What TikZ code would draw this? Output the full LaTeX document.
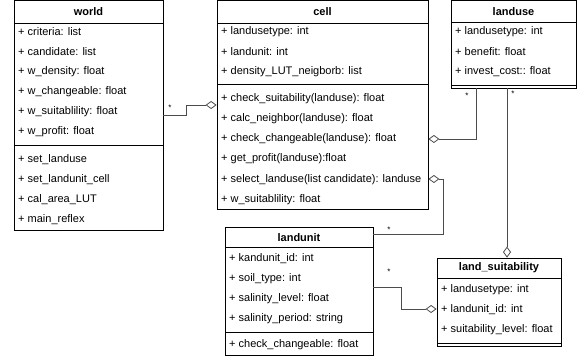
\documentclass[tikz,border=0pt]{standalone}
\usepackage{fontspec}
\setmainfont{Liberation Sans}
\usetikzlibrary{arrows.meta}
\begin{document}
\begin{tikzpicture}[x=1pt,y=-1pt,
  box/.style={draw=black,line width=0.8pt,inner sep=0pt},
  sepline/.style={draw=black,line width=0.8pt},
  rowtxt/.style={anchor=west,inner sep=0pt,font=\fontsize{11}{13}\selectfont},
  ttl/.style={inner sep=0pt,font=\fontsize{11}{13}\selectfont\bfseries},
  conn/.style={draw=black!70,line width=0.8pt,-{Diamond[open,length=11pt,width=8pt]}},
  mult/.style={inner sep=0pt,font=\fontsize{8}{9}\selectfont}]
\useasboundingbox (0,0) rectangle (583,358);
\fill[white] (0,0) rectangle (583,358);
% ---------- world ----------
\node[box,minimum width=149pt,minimum height=229.5pt] (world) at (88.5,115.25) {};
\node[ttl] (worldT) at (88.5,12) {world};
\draw[sepline] (14,23) -- (163,23);
\draw[sepline] (14,145) -- (163,145);
\node[rowtxt] (w1) at (18,32) {+ criteria: list};
\node[rowtxt] (w2) at (18,52) {+ candidate: list};
\node[rowtxt] (w3) at (18,72) {+ w\_density: float};
\node[rowtxt] (w4) at (18,92) {+ w\_changeable: float};
\node[rowtxt] (w5) at (18,112) {+ w\_suitablility: float};
\node[rowtxt] (w6) at (18,132) {+ w\_profit: float};
\node[rowtxt] (w7) at (18,160) {+ set\_landuse};
\node[rowtxt] (w8) at (18,180) {+ set\_landunit\_cell};
\node[rowtxt] (w9) at (18,200) {+ cal\_area\_LUT};
\node[rowtxt] (w10) at (18,220) {+ main\_reflex};
% ---------- cell ----------
\node[box,minimum width=211pt,minimum height=208.5pt] (cell) at (322.5,104.75) {};
\node[ttl] (cellT) at (322.5,12) {cell};
\draw[sepline] (217,23) -- (428,23);
\draw[sepline] (217,84) -- (428,84);
\node[rowtxt] (c1) at (221,32) {+ landusetype: int};
\node[rowtxt] (c2) at (221,52) {+ landunit: int};
\node[rowtxt] (c3) at (221,72) {+ density\_LUT\_neigborb: list};
\node[rowtxt] (c4) at (221,99) {+ check\_suitability(landuse): float};
\node[rowtxt] (c5) at (221,119) {+ calc\_neighbor(landuse): float};
\node[rowtxt] (c6) at (221,139) {+ check\_changeable(landuse): float};
\node[rowtxt] (c7) at (221,159) {+ get\_profit(landuse):float};
\node[rowtxt] (c8) at (221,180) {+ select\_landuse(list candidate): landuse};
\node[rowtxt] (c9) at (221,200) {+ w\_suitablility: float};
% ---------- landuse ----------
\node[box,minimum width=125pt,minimum height=87.5pt] (landuse) at (513.5,44.25) {};
\node[ttl] (landuseT) at (513.5,12) {landuse};
\draw[sepline] (451,22) -- (576,22);
\draw[sepline] (451,85) -- (576,85);
\node[rowtxt] (l1) at (455,32) {+ landusetype: int};
\node[rowtxt] (l2) at (455,52) {+ benefit: float};
\node[rowtxt] (l3) at (455,72) {+ invest\_cost:: float};
% ---------- landunit ----------
\node[box,minimum width=148pt,minimum height=128pt] (landunit) at (299,291) {};
\node[ttl] (landunitT) at (299,237.5) {landunit};
\draw[sepline] (225,247) -- (373,247);
\draw[sepline] (225,332) -- (373,332);
\node[rowtxt] (u1) at (229,259) {+ kandunit\_id: int};
\node[rowtxt] (u2) at (229,279) {+ soil\_type: int};
\node[rowtxt] (u3) at (229,299) {+ salinity\_level: float};
\node[rowtxt] (u4) at (229,319) {+ salinity\_period: string};
\node[rowtxt] (u5) at (229,345) {+ check\_changeable: float};
% ---------- land_suitability ----------
\node[box,minimum width=124pt,minimum height=88pt] (suit) at (499,302) {};
\node[ttl] (suitT) at (499,268) {land\_suitability};
\draw[sepline] (437,278) -- (561,278);
\draw[sepline] (437,343) -- (561,343);
\node[rowtxt] (s1) at (441,290) {+ landusetype: int};
\node[rowtxt] (s2) at (441,310) {+ landunit\_id: int};
\node[rowtxt] (s3) at (441,330) {+ suitability\_level: float};
% ---------- connectors ----------
\draw[conn] (world.east |- 0,115) -- (186,115) -- (186,105) -- (cell.west |- 0,105);
\node[mult] (m1) at (170,108) {*};
\draw[conn] (landuse.south -| 476,0) -- (476,139) -- (cell.east |- 0,139);
\node[mult] (m2) at (467,96) {*};
\draw[conn] (landunit.east |- 0,234) -- (443,234) -- (443,179) -- (cell.east |- 0,179);
\node[mult] (m3) at (389,230) {*};
\draw[conn] (landuse.south -| 507,0) -- (suit.north -| 507,0);
\node[mult] (m4) at (513,94) {*};
\draw[conn] (landunit.east |- 0,287) -- (401,287) -- (401,309) -- (suit.west |- 0,309);
\node[mult] (m5) at (389,272) {*};
\end{tikzpicture}
\end{document}
